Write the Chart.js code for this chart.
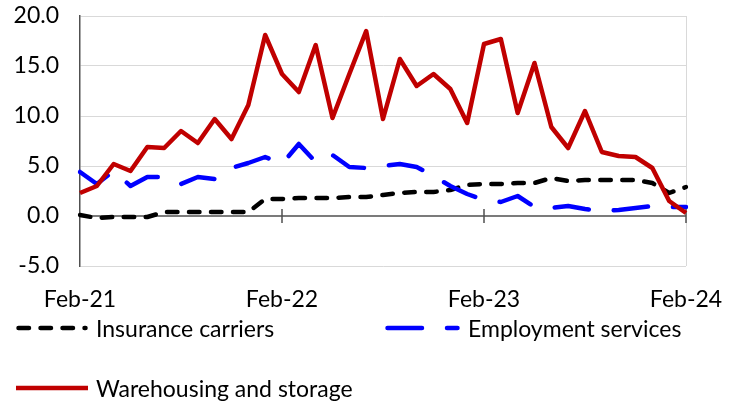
<!DOCTYPE html>
<html>
<head>
<meta charset="utf-8">
<script src="https://cdn.jsdelivr.net/npm/chart.js@4.4.1/dist/chart.umd.min.js"></script>
<style>
    html, body { margin: 0; padding: 0; background: #fff; }
    #wrap { position: relative; width: 734px; height: 404px; overflow: hidden; }
    #chart { position: absolute; left: 0; top: 0; }
    #legend {
        position: absolute; left: 16px; top: 313px;
        display: grid; grid-template-columns: 369px auto; row-gap: 30px;
        font-family: Lato, sans-serif; font-size: 23px; color: #000;
    }
    .item { display: flex; align-items: center; height: 30px; white-space: nowrap; }
    .item svg { margin-right: 8px; }
</style>
</head>
<body>
<div id="wrap">
    <canvas id="chart" width="734" height="404"></canvas>
    <div id="legend"></div>
</div>
<script>
// Monthly categories, Feb-21 .. Feb-24
const months = [
    'Feb-21', 'Mar-21', 'Apr-21', 'May-21', 'Jun-21', 'Jul-21', 'Aug-21', 'Sep-21', 'Oct-21', 'Nov-21', 'Dec-21', 'Jan-22',
    'Feb-22', 'Mar-22', 'Apr-22', 'May-22', 'Jun-22', 'Jul-22', 'Aug-22', 'Sep-22', 'Oct-22', 'Nov-22', 'Dec-22', 'Jan-23',
    'Feb-23', 'Mar-23', 'Apr-23', 'May-23', 'Jun-23', 'Jul-23', 'Aug-23', 'Sep-23', 'Oct-23', 'Nov-23', 'Dec-23', 'Jan-24',
    'Feb-24'
];
const xTickLabels = ['Feb-21', 'Feb-22', 'Feb-23', 'Feb-24'];
const yTicks = [-5, 0, 5, 10, 15, 20];

const insuranceCarriers = [
    0.1, -0.2, -0.1, -0.1, -0.1, 0.4, 0.4, 0.4, 0.4, 0.4, 0.4, 1.7,
    1.7, 1.8, 1.8, 1.8, 1.9, 1.9, 2.1, 2.3, 2.4, 2.4, 2.6, 3.1,
    3.2, 3.2, 3.3, 3.3, 3.8, 3.5, 3.6, 3.6, 3.6, 3.6, 3.3, 2.3,
    2.9
];
const employmentServices = [
    4.4, 3.2, 4.5, 3.0, 3.9, 3.9, 3.2, 3.9, 3.7, 4.8, 5.3, 5.9,
    5.2, 7.2, 5.4, 6.1, 4.9, 4.8, 5.0, 5.2, 4.9, 4.0, 3.0, 2.2,
    1.6, 1.4, 2.0, 0.9, 0.8, 1.0, 0.7, 0.5, 0.6, 0.8, 1.0, 0.9,
    0.9
];
const warehousingStorage = [
    2.3, 3.0, 5.2, 4.5, 6.9, 6.8, 8.5, 7.3, 9.7, 7.7, 11.1, 18.1,
    14.2, 12.4, 17.1, 9.8, 14.2, 18.5, 9.7, 15.7, 13.0, 14.2, 12.7, 9.3,
    17.2, 17.7, 10.3, 15.3, 8.9, 6.8, 10.5, 6.4, 6.0, 5.9, 4.8, 1.5,
    0.3
];

const FONT = { family: 'Lato, sans-serif', size: 23 };
const AXIS_COLOR = '#505050';
const GRID_COLOR = '#d9d9d9';
const NONE = 'rgba(0,0,0,0)';

const series = [
    { label: 'Insurance carriers', data: insuranceCarriers, color: '#000000', dash: [10.5, 11.5], order: 3 },
    { label: 'Employment services', data: employmentServices, color: '#0000ff', dash: [34.5, 25], order: 2 },
    { label: 'Warehousing and storage', data: warehousingStorage, color: '#c00000', dash: [], order: 1 }
];

// zero line with cross tick marks, like the Excel axis
const zeroAxis = {
    id: 'zeroAxis',
    beforeDatasetsDraw(chart) {
        const { ctx, chartArea, scales } = chart;
        const y0 = scales.y.getPixelForValue(0);
        ctx.save();
        ctx.strokeStyle = AXIS_COLOR;
        ctx.lineWidth = 1.5;
        ctx.beginPath();
        ctx.moveTo(chartArea.left, y0);
        ctx.lineTo(chartArea.right, y0);
        months.forEach((m, i) => {
            if (i > 0 && xTickLabels.includes(m)) {
                const px = scales.x.getPixelForValue(i);
                ctx.moveTo(px, y0 - 7);
                ctx.lineTo(px, y0 + 7);
            }
        });
        ctx.stroke();
        ctx.restore();
    }
};

const chart = new Chart(document.getElementById('chart'), {
    type: 'line',
    data: {
        labels: months,
        datasets: series.map(s => ({
            label: s.label,
            data: s.data,
            borderColor: s.color,
            backgroundColor: s.color,
            borderWidth: 4.5,
            borderDash: s.dash,
            borderCapStyle: s.dash.length ? 'round' : 'butt',
            borderJoinStyle: 'round',
            pointRadius: 0,
            tension: 0,
            order: s.order
        }))
    },
    options: {
        responsive: false,
        animation: false,
        layout: { padding: { left: 0, top: 16, right: 48, bottom: 88 } },
        plugins: {
            legend: { display: false },
            tooltip: { enabled: false }
        },
        scales: {
            x: {
                grid: {
                    color: ctx => ctx.index === months.length - 1 ? GRID_COLOR : NONE,
                    tickColor: NONE,
                    tickLength: 20
                },
                border: { display: false },
                ticks: {
                    autoSkip: false,
                    minRotation: 0,
                    maxRotation: 0,
                    padding: 0,
                    color: '#000',
                    font: FONT,
                    callback: (v, i) => xTickLabels.includes(months[i]) ? months[i] : ''
                },
                afterFit: s => { s.height = 50; }
            },
            y: {
                min: yTicks[0],
                max: yTicks[yTicks.length - 1],
                afterBuildTicks: s => { s.ticks = yTicks.map(v => ({ value: v })); },
                ticks: {
                    padding: 0,
                    color: '#000',
                    font: FONT,
                    callback: v => v.toFixed(1)
                },
                grid: {
                    color: ctx => ctx.tick && ctx.tick.value === 0 ? NONE : GRID_COLOR,
                    tickColor: NONE,
                    tickLength: 21
                },
                border: { display: true, color: AXIS_COLOR, width: 1.5 },
                afterFit: s => { s.width = 80; }
            }
        }
    },
    plugins: [zeroAxis]
});

// legend built from the same series list
const legend = document.getElementById('legend');
series.forEach(s => {
    const item = document.createElement('div');
    item.className = 'item';
    const w = s.dash.length && s.dash[0] > 20 ? 75 : 72;
    const cap = s.dash.length ? 'round' : 'butt';
    const x1 = s.dash.length ? 2.5 : 0;
    const x2 = s.dash.length ? w - 2.5 : w;
    item.innerHTML =
        `<svg width="${w}" height="10"><line x1="${x1}" y1="5" x2="${x2}" y2="5" stroke="${s.color}" stroke-width="4.5" ` +
        `stroke-linecap="${cap}" stroke-dasharray="${s.dash.join(' ') || 'none'}"/></svg><span>${s.label}</span>`;
    legend.appendChild(item);
});
</script>
</body>
</html>
